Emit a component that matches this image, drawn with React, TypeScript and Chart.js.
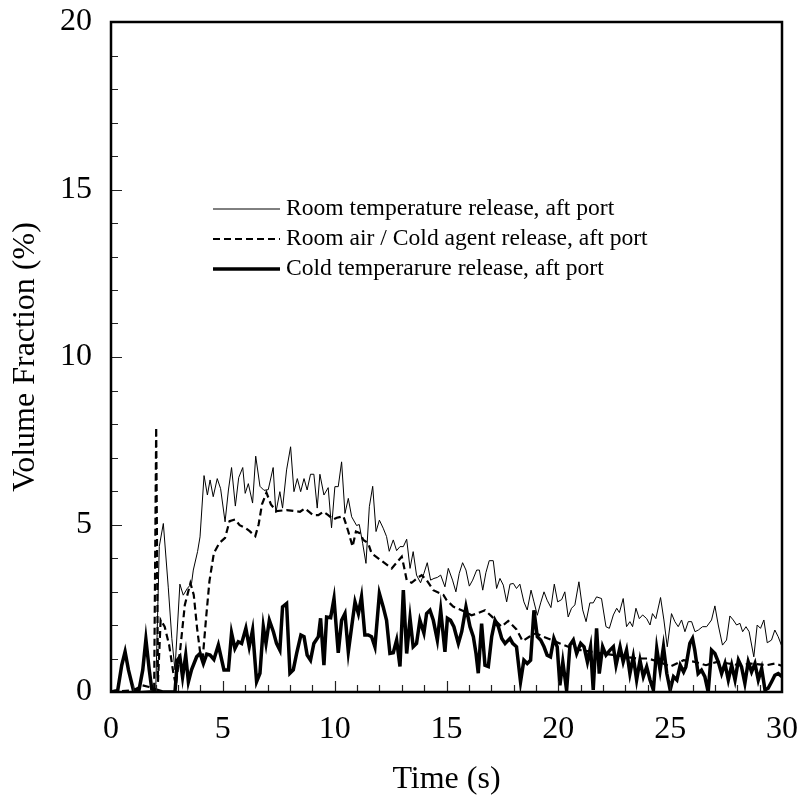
import React, { useEffect, useRef } from "react";
import { Chart, registerables } from "chart.js";

Chart.register(...registerables);

const FONT = "'Liberation Serif', 'Times New Roman', serif";

const seriesLabels = [
  "Room temperature release, aft port",
  "Room air / Cold agent release, aft port",
  "Cold temperarure release, aft port",
];
const xAxisTitle = "Time (s)";
const yAxisTitle = "Volume Fraction (%)";
const xTickValues = [0, 5, 10, 15, 20, 25, 30];
const yTickValues = [0, 5, 10, 15, 20];

// Room temperature release (thin line)
const roomTime = [0, 1.0, 2.0, 2.16, 2.34, 2.56, 2.72, 2.86, 3.08, 3.23, 3.41, 3.6, 3.68, 3.87, 3.98, 4.16, 4.31, 4.43, 4.57, 4.75, 4.9, 5.1, 5.25, 5.39, 5.56, 5.71, 5.89, 6.0, 6.14, 6.33, 6.47, 6.66, 6.84, 7.03, 7.25, 7.37, 7.55, 7.67, 7.85, 8.03, 8.18, 8.33, 8.48, 8.63, 8.77, 8.92, 9.07, 9.22, 9.34, 9.52, 9.71, 9.86, 10.01, 10.16, 10.31, 10.46, 10.61, 10.76, 10.98, 11.1, 11.25, 11.4, 11.55, 11.7, 11.85, 12.0, 12.17, 12.32, 12.44, 12.62, 12.77, 12.92, 13.07, 13.22, 13.37, 13.51, 13.66, 13.84, 13.99, 14.14, 14.29, 14.44, 14.59, 14.74, 14.93, 15.08, 15.27, 15.42, 15.57, 15.72, 15.87, 16.02, 16.17, 16.35, 16.47, 16.62, 16.76, 16.91, 17.09, 17.24, 17.39, 17.54, 17.69, 17.84, 17.99, 18.13, 18.28, 18.46, 18.61, 18.78, 18.91, 19.06, 19.21, 19.36, 19.5, 19.67, 19.82, 19.97, 20.15, 20.29, 20.44, 20.59, 20.74, 20.92, 21.09, 21.24, 21.41, 21.56, 21.71, 21.93, 22.13, 22.28, 22.46, 22.61, 22.73, 22.9, 23.05, 23.2, 23.32, 23.47, 23.62, 23.77, 23.95, 24.1, 24.21, 24.36, 24.57, 24.72, 24.87, 25.06, 25.21, 25.36, 25.51, 25.66, 25.81, 25.96, 26.11, 26.26, 26.45, 26.63, 26.85, 27.0, 27.15, 27.34, 27.52, 27.67, 27.82, 27.97, 28.12, 28.24, 28.39, 28.53, 28.74, 28.89, 29.04, 29.19, 29.34, 29.53, 29.68, 29.83, 30.0];
const roomValue = [0, 0, 0.05, 4.35, 5.03, 3.13, 1.6, 0.66, 3.22, 2.89, 3.09, 3.24, 3.64, 4.19, 4.63, 6.46, 5.88, 6.33, 5.83, 6.37, 6.07, 5.08, 6.03, 6.7, 5.55, 6.4, 6.7, 5.93, 6.22, 5.64, 7.04, 6.14, 6.02, 6.04, 6.7, 5.35, 5.98, 5.49, 6.63, 7.32, 5.98, 6.37, 5.98, 6.37, 6.03, 6.5, 6.5, 5.49, 6.5, 5.88, 6.1, 4.9, 6.13, 6.13, 6.87, 5.33, 5.78, 5.23, 4.97, 5.0, 4.44, 3.84, 5.53, 6.14, 4.79, 5.13, 4.89, 4.64, 4.2, 4.54, 4.22, 4.34, 4.34, 4.56, 3.69, 4.19, 3.49, 3.26, 3.54, 3.86, 3.34, 3.39, 3.42, 3.49, 3.14, 3.69, 3.34, 2.99, 3.54, 3.86, 3.64, 3.16, 3.34, 3.64, 3.64, 3.04, 3.56, 3.92, 3.92, 3.09, 3.39, 3.19, 2.69, 3.22, 3.24, 3.09, 3.22, 2.69, 2.45, 3.04, 2.69, 2.29, 2.66, 2.99, 2.74, 2.52, 3.22, 2.69, 2.76, 2.99, 2.24, 2.5, 2.6, 3.29, 2.45, 2.1, 2.66, 2.66, 2.84, 2.79, 1.95, 1.9, 2.3, 2.5, 2.37, 2.79, 1.95, 2.1, 1.95, 2.5, 2.19, 2.3, 2.19, 2.0, 2.34, 2.19, 2.82, 2.15, 1.35, 2.34, 2.1, 1.95, 2.15, 1.8, 2.1, 2.1, 1.8, 1.85, 1.95, 1.95, 2.15, 2.57, 2.0, 1.4, 1.55, 2.27, 2.15, 2.0, 2.05, 1.8, 1.95, 1.8, 1.05, 2.0, 1.9, 2.15, 1.47, 1.55, 1.85, 1.65, 1.35];

// Room air / cold agent release (dashed line)
const agentTime = [0, 1.0, 1.4, 1.7, 1.93, 2.02, 2.1, 2.22, 2.4, 2.6, 2.78, 2.9, 3.1, 3.3, 3.55, 3.7, 3.85, 4.0, 4.1, 4.25, 4.4, 4.6, 4.85, 5.1, 5.3, 5.55, 5.75, 6.0, 6.2, 6.45, 6.6, 6.75, 6.95, 7.15, 7.4, 7.85, 8.45, 8.67, 9.04, 9.27, 9.49, 9.71, 9.94, 10.1, 10.39, 10.61, 10.8, 10.95, 11.13, 11.28, 11.5, 11.65, 11.95, 12.55, 13.0, 13.1, 13.22, 13.44, 13.7, 13.89, 14.11, 14.41, 14.86, 15.01, 15.3, 15.75, 16.12, 16.35, 16.72, 17.03, 17.24, 17.46, 17.76, 18.13, 18.4, 18.7, 19.0, 19.33, 19.65, 20.07, 20.44, 21.0, 21.5, 22.0, 22.5, 23.0, 23.5, 24.0, 24.5, 25.0, 25.6, 26.1, 26.6, 27.1, 27.6, 28.1, 28.6, 29.3, 29.7, 30.0];
const agentValue = [0, 0.05, 0.2, 0.15, 0.1, 7.9, 0.3, 2.15, 1.95, 1.4, 0.6, 0.2, 1.3, 2.6, 3.25, 2.9, 1.9, 1.1, 1.0, 2.2, 3.3, 4.15, 4.45, 4.6, 5.1, 5.15, 4.98, 4.9, 4.8, 4.65, 5.0, 5.6, 5.95, 5.6, 5.4, 5.43, 5.38, 5.48, 5.28, 5.28, 5.38, 5.28, 5.15, 5.2, 5.25, 4.79, 4.34, 4.79, 4.74, 4.54, 4.44, 4.14, 3.99, 3.69, 4.04, 3.74, 3.34, 3.26, 3.4, 3.49, 3.34, 3.04, 2.9, 2.74, 2.55, 2.42, 2.29, 2.34, 2.44, 2.25, 2.1, 1.95, 2.12, 1.87, 1.52, 1.65, 1.75, 1.65, 1.57, 1.45, 1.35, 1.25, 1.2, 1.15, 1.1, 1.05, 1.0, 1.0, 0.9, 0.76, 0.95, 0.9, 0.8, 0.9, 0.85, 0.8, 0.85, 0.8, 0.85, 0.78];

// Cold temperature release (thick line)
const coldTime = [0, 0.3, 0.48, 0.63, 0.78, 1.0, 1.25, 1.42, 1.56, 1.71, 1.82, 2.3, 2.86, 2.97, 3.08, 3.2, 3.34, 3.46, 3.6, 3.83, 3.98, 4.13, 4.28, 4.43, 4.6, 4.8, 5.05, 5.25, 5.39, 5.54, 5.69, 5.84, 6.03, 6.18, 6.33, 6.51, 6.66, 6.81, 6.93, 7.08, 7.26, 7.4, 7.55, 7.67, 7.85, 8.0, 8.15, 8.3, 8.49, 8.63, 8.77, 8.92, 9.07, 9.27, 9.37, 9.52, 9.64, 9.82, 9.97, 10.16, 10.31, 10.46, 10.61, 10.76, 10.91, 11.06, 11.2, 11.35, 11.5, 11.65, 11.8, 12.0, 12.17, 12.32, 12.47, 12.62, 12.77, 12.92, 13.07, 13.22, 13.37, 13.51, 13.66, 13.81, 13.99, 14.11, 14.26, 14.41, 14.59, 14.74, 14.93, 15.04, 15.18, 15.33, 15.53, 15.68, 15.87, 16.05, 16.2, 16.32, 16.42, 16.57, 16.72, 16.87, 17.02, 17.17, 17.32, 17.47, 17.62, 17.84, 17.96, 18.13, 18.31, 18.46, 18.61, 18.76, 18.91, 19.06, 19.21, 19.36, 19.5, 19.65, 19.8, 19.95, 20.07, 20.2, 20.37, 20.52, 20.67, 20.82, 21.0, 21.15, 21.3, 21.44, 21.56, 21.71, 21.83, 21.98, 22.13, 22.31, 22.46, 22.58, 22.76, 22.9, 23.05, 23.2, 23.35, 23.5, 23.65, 23.8, 23.95, 24.1, 24.25, 24.4, 24.55, 24.7, 24.85, 25.0, 25.15, 25.3, 25.45, 25.6, 25.7, 25.88, 26.0, 26.1, 26.25, 26.4, 26.55, 26.7, 26.85, 27.0, 27.15, 27.3, 27.45, 27.6, 27.75, 27.9, 28.05, 28.19, 28.34, 28.49, 28.64, 28.79, 28.94, 29.09, 29.24, 29.38, 29.53, 29.68, 29.83, 30.0];
const coldValue = [0, 0.05, 0.8, 1.2, 0.66, 0.06, 0.05, 0.66, 1.57, 0.66, 0.1, 0.0, 0.0, 0.95, 1.05, 0.45, 1.1, 0.3, 0.66, 1.05, 1.15, 0.85, 1.13, 1.1, 0.97, 1.4, 0.66, 0.66, 1.76, 1.3, 1.5, 1.45, 1.9, 1.35, 1.85, 0.31, 0.56, 1.95, 1.45, 2.14, 1.8, 1.45, 1.25, 2.54, 2.64, 0.56, 0.66, 1.15, 1.7, 1.65, 1.1, 0.95, 1.45, 1.65, 2.2, 0.8, 2.24, 2.22, 2.79, 1.17, 2.14, 2.34, 1.2, 1.95, 2.69, 2.34, 2.84, 1.7, 1.7, 1.65, 1.35, 2.94, 2.54, 2.14, 1.15, 1.17, 1.55, 0.76, 3.04, 1.15, 2.2, 1.35, 1.45, 2.14, 1.76, 2.34, 2.44, 2.14, 1.55, 2.44, 1.2, 2.2, 2.14, 1.95, 1.45, 1.8, 2.54, 1.95, 1.65, 1.15, 0.56, 2.04, 0.8, 0.76, 1.65, 2.14, 1.95, 1.6, 1.45, 1.6, 1.45, 1.35, 0.3, 0.95, 0.85, 0.95, 2.44, 1.65, 1.55, 1.35, 1.1, 1.05, 1.6, 1.35, 0.2, 0.9, 0.05, 1.4, 1.55, 1.15, 1.45, 1.35, 0.9, 1.35, 0.06, 1.9, 0.55, 1.35, 1.1, 1.25, 1.35, 0.8, 1.35, 0.9, 1.25, 0.55, 1.05, 0.36, 0.95, 0.46, 0.75, 0.36, 0.06, 1.3, 0.65, 1.35, 0.55, 0.06, 0.46, 0.36, 0.8, 0.6, 0.75, 1.45, 1.6, 1.25, 0.55, 0.65, 0.46, 0.0, 1.25, 1.15, 0.9, 0.55, 0.85, 0.36, 0.8, 0.36, 0.95, 0.75, 0.26, 0.9, 0.6, 0.85, 0.36, 0.7, 0.06, 0.11, 0.3, 0.5, 0.55, 0.46];

const toPoints = (t: number[], v: number[]) => t.map((x, i) => ({ x, y: v[i] }));

const lineStyles = [
  { width: 1, dash: [] as number[] },
  { width: 2.2, dash: [7, 4] },
  { width: 3.5, dash: [] as number[] },
];

const framePlugin = {
  id: "frameTicksLegend",
  afterDatasetsDraw(chart: any) {
    const { ctx, chartArea: a, scales } = chart;
    const xs = scales.x;
    const ys = scales.y;
    ctx.save();
    // inside ticks
    ctx.strokeStyle = "#222";
    ctx.lineWidth = 1.2;
    ctx.beginPath();
    for (let v = 1; v < 30; v++) {
      const px = Math.round(xs.getPixelForValue(v)) + 0.5;
      const len = v % 5 === 0 ? 11 : 7;
      ctx.moveTo(px, a.bottom);
      ctx.lineTo(px, a.bottom - len);
    }
    for (let v = 1; v < 20; v++) {
      const py = Math.round(ys.getPixelForValue(v)) + 0.5;
      const len = v % 5 === 0 ? 11 : 7;
      ctx.moveTo(a.left, py);
      ctx.lineTo(a.left + len, py);
    }
    ctx.stroke();
    // frame
    ctx.strokeStyle = "#000";
    ctx.lineWidth = 2.5;
    ctx.strokeRect(a.left, a.top, a.right - a.left, a.bottom - a.top);

    // legend
    const lx0 = a.left + 102;
    const lx1 = a.left + 169;
    const tx = a.left + 175;
    const rowY = [a.top + 187, a.top + 217, a.top + 247];
    ctx.font = `23.6px ${FONT}`;
    ctx.fillStyle = "#000";
    ctx.textBaseline = "middle";
    ctx.textAlign = "left";
    seriesLabels.forEach((label, i) => {
      ctx.strokeStyle = "#000";
      ctx.lineWidth = lineStyles[i].width;
      ctx.setLineDash(lineStyles[i].dash);
      ctx.beginPath();
      ctx.moveTo(lx0, rowY[i]);
      ctx.lineTo(lx1, rowY[i]);
      ctx.stroke();
      ctx.setLineDash([]);
      ctx.fillText(label, tx, rowY[i]);
    });
    ctx.restore();
  },
};

export default function App() {
  const ref = useRef<HTMLCanvasElement>(null);
  useEffect(() => {
    if (!ref.current) return;
    const datasets = [
      { label: seriesLabels[0], data: toPoints(roomTime, roomValue), order: 3 },
      { label: seriesLabels[1], data: toPoints(agentTime, agentValue), order: 2 },
      { label: seriesLabels[2], data: toPoints(coldTime, coldValue), order: 1 },
    ].map((d, i) => ({
      ...d,
      borderColor: "#000",
      backgroundColor: "#000",
      borderWidth: lineStyles[i].width,
      borderDash: lineStyles[i].dash,
      pointRadius: 0,
      pointHoverRadius: 0,
      tension: 0,
      fill: false,
      borderJoinStyle: "miter" as const,
    }));

    const chart = new Chart(ref.current, {
      type: "line",
      data: { datasets },
      plugins: [framePlugin],
      options: {
        responsive: false,
        animation: false,
        events: [],
        layout: { padding: { top: 22, right: 18, left: 0, bottom: 0 } },
        plugins: { legend: { display: false }, tooltip: { enabled: false } },
        scales: {
          x: {
            type: "linear",
            min: 0,
            max: 30,
            afterBuildTicks: (s: any) => {
              s.ticks = xTickValues.map((value) => ({ value }));
            },
            afterFit: (s: any) => {
              s.height = 105;
              s.paddingLeft = 0;
              s.paddingRight = 0;
            },
            ticks: {
              font: { family: FONT, size: 32 },
              color: "#000",
              padding: 18,
              maxRotation: 0,
              autoSkip: false,
            },
            grid: { display: false, drawTicks: false },
            border: { display: false },
            title: {
              display: true,
              text: xAxisTitle,
              color: "#000",
              font: { family: FONT, size: 32, lineHeight: 1 },
              padding: { top: 0, bottom: 1 },
            },
          },
          y: {
            type: "linear",
            min: 0,
            max: 20,
            afterBuildTicks: (s: any) => {
              s.ticks = yTickValues.map((value) => ({ value }));
            },
            afterFit: (s: any) => {
              s.width = 111;
              s.paddingTop = 0;
              s.paddingBottom = 0;
            },
            ticks: {
              font: { family: FONT, size: 32 },
              color: "#000",
              padding: 19,
              autoSkip: false,
            },
            grid: { display: false, drawTicks: false },
            border: { display: false },
            title: {
              display: true,
              text: yAxisTitle,
              color: "#000",
              font: { family: FONT, size: 32, lineHeight: 1 },
              padding: { top: 10, bottom: 0 },
            },
          },
        },
      },
    });
    return () => chart.destroy();
  }, []);

  return (
    <div style={{ position: "absolute", left: 0, top: 0, width: 800, height: 797, background: "#fff" }}>
      <canvas ref={ref} width={800} height={797} style={{ display: "block" }} />
    </div>
  );
}
